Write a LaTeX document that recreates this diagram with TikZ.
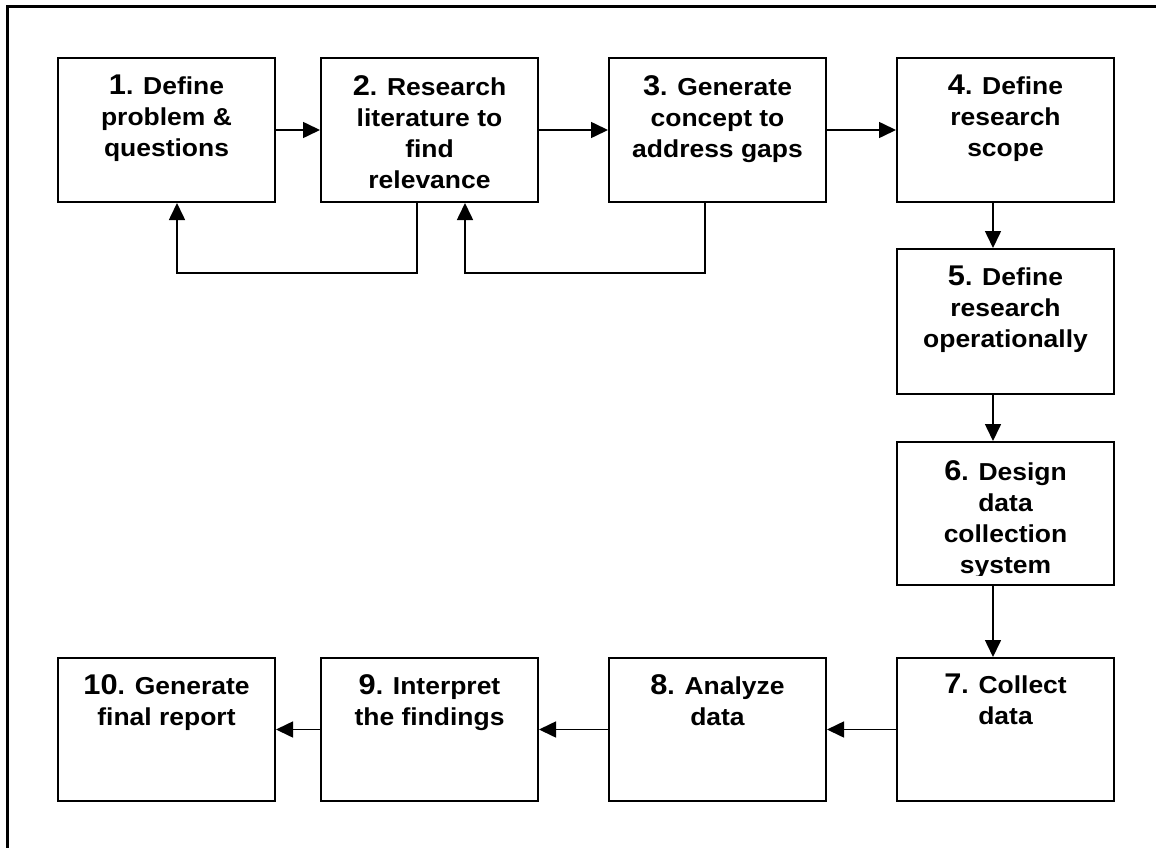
\documentclass[tikz,border=0pt]{standalone}
\usepackage{fontspec}
\setmainfont{Liberation Sans}[FakeStretch=1.08]
\usetikzlibrary{arrows.meta}
\newcommand\nb[1]{{\fontsize{28.5}{31}\selectfont #1}}
\tikzset{
  stepbox/.style={draw, line width=2pt, rectangle, minimum width=217pt, minimum height=144pt, inner sep=0pt, anchor=north west},
  txt/.style={anchor=north, inner sep=0pt, align=center, font=\fontsize{24.5}{31}\selectfont\bfseries},
  arr/.style={line width=1.6pt, -{Triangle[length=17pt,width=16pt]}},
}
\begin{document}
\begin{tikzpicture}[x=1pt,y=-1pt]
\useasboundingbox (0,0) rectangle (1156,848);
\clip (0,0) rectangle (1156,848);
\draw[line width=3pt] (7,7) rectangle (1175,870);
% boxes
\node[stepbox] (b1) at (57,57) {};
\node[stepbox] (b2) at (320,57) {};
\node[stepbox] (b3) at (608,57) {};
\node[stepbox] (b4) at (896,57) {};
\node[stepbox, minimum height=145pt] (b5) at (896,248) {};
\node[stepbox, minimum height=143pt] (b6) at (896,441) {};
\node[stepbox, minimum height=143pt] (b7) at (896,657) {};
\node[stepbox, minimum height=143pt] (b8) at (608,657) {};
\node[stepbox, minimum height=143pt] (b9) at (320,657) {};
\node[stepbox, minimum height=143pt] (b10) at (57,657) {};
% texts
\node[txt] (t1) at ([yshift=-18pt]b1.north) {\nb{1}. Define\\problem \&\\questions};
\node[txt] (t2) at ([yshift=-18pt]b2.north) {\nb{2}. Research\\literature to\\find\\relevance};
\node[txt] (t3) at ([yshift=-18pt]b3.north) {\nb{3}. Generate\\concept to\\address gaps};
\node[txt] (t4) at ([yshift=-18pt]b4.north) {\nb{4}. Define\\research\\scope};
\node[txt] (t5) at ([yshift=-18pt]b5.north) {\nb{5}. Define\\research\\operationally};
\begin{scope}
\clip ([xshift=1pt,yshift=-1pt]b6.north west) rectangle ([xshift=-1pt,yshift=11pt]b6.south east);
\node[txt] (t6) at ([yshift=-19pt]b6.north) {\nb{6}. Design\\data\\collection\\system};
\end{scope}
\node[txt] (t7) at ([yshift=-17pt]b7.north) {\nb{7}. Collect\\data};
\node[txt] (t8) at ([yshift=-17pt]b8.north) {\nb{8}. Analyze\\data};
\node[txt] (t9) at ([yshift=-17pt]b9.north) {\nb{9}. Interpret\\the findings};
\node[txt] (t10) at ([yshift=-17pt]b10.north) {\nb{10}. Generate\\final report};
% forward arrows
\draw[arr] (b1.east) -- (b2.west);
\draw[arr] (b2.east) -- (b3.west);
\draw[arr] (b3.east) -- (b4.west);
\draw[arr] (b4.south -| 993,0) -- (b5.north -| 993,0);
\draw[arr] (b5.south -| 993,0) -- (b6.north -| 993,0);
\draw[arr] (b6.south -| 993,0) -- (b7.north -| 993,0);
\draw[arr] (b7.west) -- (b8.east);
\draw[arr] (b8.west) -- (b9.east);
\draw[arr] (b9.west) -- (b10.east);
% feedback arrows
\coordinate (f1) at (417,273);
\coordinate (f2) at (177,273);
\coordinate (f3) at (705,273);
\coordinate (f4) at (465,273);
\draw[arr] (b2.south -| f1) -- (f1) -- (f2) -- (b1.south -| f2);
\draw[arr] (b3.south -| f3) -- (f3) -- (f4) -- (b2.south -| f4);
\end{tikzpicture}
\end{document}
